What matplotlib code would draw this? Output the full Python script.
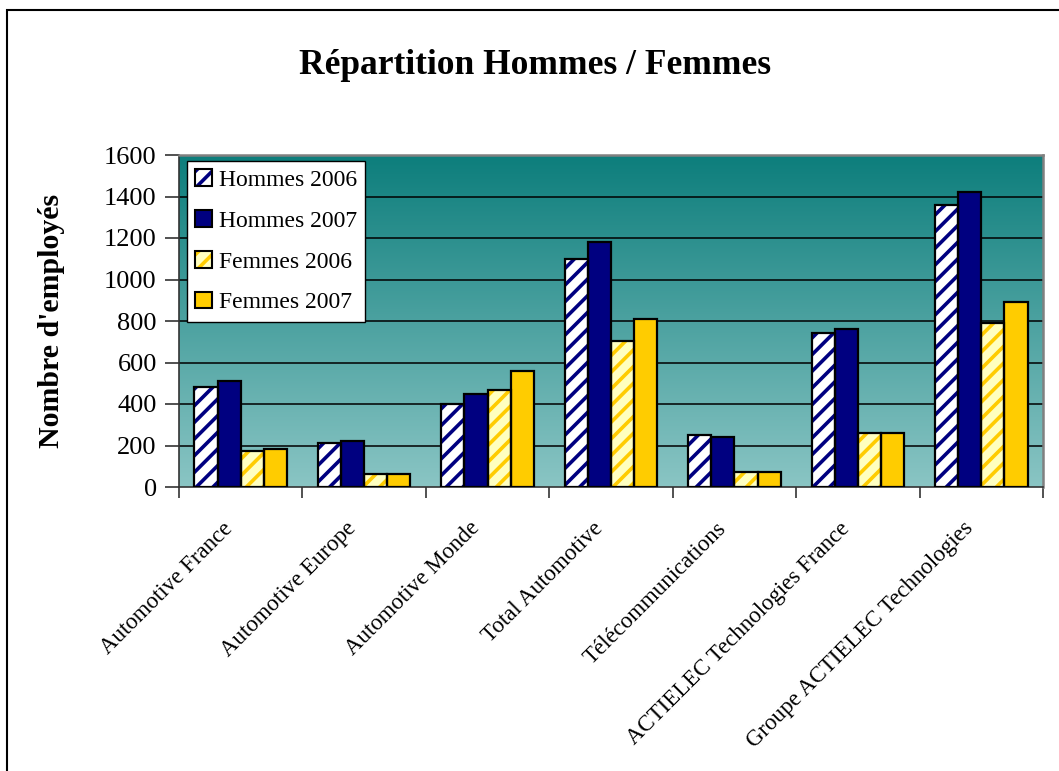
import matplotlib.pyplot as plt
from matplotlib.patches import Patch, Rectangle
from matplotlib.legend_handler import HandlerTuple
from matplotlib.transforms import ScaledTranslation
import numpy as np

plt.rcParams['font.family'] = 'Liberation Serif'
plt.rcParams['hatch.linewidth'] = 2.6

categories = ['Automotive France', 'Automotive Europe', 'Automotive Monde',
              'Total Automotive', 'Télécommunications',
              'ACTIELEC Technologies France', 'Groupe ACTIELEC Technologies']
hommes_2006 = [482, 212, 399, 1098, 251, 744, 1358]
hommes_2007 = [511, 222, 447, 1182, 241, 762, 1423]
femmes_2006 = [174, 64, 466, 706, 72, 259, 789]
femmes_2007 = [185, 64, 559, 809, 72, 259, 892]
series_names = ['Hommes 2006', 'Hommes 2007', 'Femmes 2006', 'Femmes 2007']
yticks = [0, 200, 400, 600, 800, 1000, 1200, 1400, 1600]

# face colour, hatch, hatch colour
styles = [('white', '//', '#000080'),
          ('#000080', '', '#000080'),
          ('#ffffc0', '//', '#ffcc00'),
          ('#ffcc00', '', '#ffcc00')]

fig = plt.figure(figsize=(10.59, 7.71), dpi=100)
ax = fig.add_axes([179/1059, 1 - 487/771, (1043-179)/1059, (487-155)/771])

# gradient background
grad = np.linspace(0, 1, 256).reshape(-1, 1)
top = np.array([13, 126, 124]) / 255
bot = np.array([138, 197, 196]) / 255
img = top + (bot - top) * grad[:, :, None]
ax.imshow(img, extent=[0, len(categories), 0, 1600], aspect='auto', zorder=0,
          origin='upper')

for y in yticks[1:-1]:
    ax.axhline(y, color='black', lw=1.1, zorder=1)

x = np.arange(len(categories)) + 0.5
w = 0.1875
data = [hommes_2006, hommes_2007, femmes_2006, femmes_2007]
handles = []
for i, (vals, (fc, h, hc)) in enumerate(zip(data, styles)):
    pos = x + (i - 1.5) * w
    ax.bar(pos, vals, w, color=fc, hatch=h, edgecolor=hc, lw=0, zorder=2)
    ax.bar(pos, vals, w, facecolor='none', edgecolor='black', lw=1.6, zorder=3)
    p1 = Patch(facecolor=fc, hatch=h, edgecolor=hc, lw=0)
    p2 = Patch(facecolor='none', edgecolor='black', lw=1.5)
    handles.append((p1, p2))

ax.set_xlim(0, len(categories))
ax.set_ylim(0, 1600)
ax.set_yticks(yticks)
ax.set_yticklabels([str(v) for v in yticks], fontsize=19)
ax.set_xticks(np.arange(len(categories) + 1))
ax.set_xticklabels([])
ax.set_xticks(x, minor=True)
ax.set_xticklabels(categories, minor=True, rotation=45, ha='right',
                   rotation_mode='anchor', fontsize=16.5)
ax.tick_params(axis='x', which='minor', length=0, pad=10)
ax.tick_params(axis='x', which='major', length=8, width=1.2, color='#333333')
ax.tick_params(axis='y', length=10, width=1.2, color='#333333', pad=6)
shift = ScaledTranslation(-0.19, -0.17, fig.dpi_scale_trans)
for lab in ax.get_xticklabels(minor=True):
    lab.set_transform(lab.get_transform() + shift)

for s in ['top', 'right']:
    ax.spines[s].set_color('#808080')
    ax.spines[s].set_linewidth(1.8)
for s in ['left', 'bottom']:
    ax.spines[s].set_color('#333333')
    ax.spines[s].set_linewidth(1.2)

ax.set_ylabel("Nombre d'employés", fontsize=21.5, fontweight='bold')
ax.yaxis.set_label_coords(-0.132, 0.5)

leg = ax.legend(handles, series_names, handler_map={tuple: HandlerTuple(ndivide=1)},
                loc='upper left', bbox_to_anchor=(0.009, 0.982), fontsize=17,
                frameon=True, fancybox=False, edgecolor='black', framealpha=1,
                handlelength=0.7, handleheight=0.7, handletextpad=0.3,
                labelspacing=0.82, borderpad=0.35, borderaxespad=0)
leg.get_frame().set_linewidth(1.0)

fig.text(535/1059, 1 - 65/771, 'Répartition Hommes / Femmes', ha='center',
         va='center', fontsize=25.5, fontweight='bold')

# outer frame of the chart object
fig.patches.append(Rectangle((7/1059, -0.05), 1.1, 1.05 - 10/771,
                             transform=fig.transFigure, fill=False,
                             edgecolor='black', lw=1.5))

fig.savefig('out.png', dpi=100)
